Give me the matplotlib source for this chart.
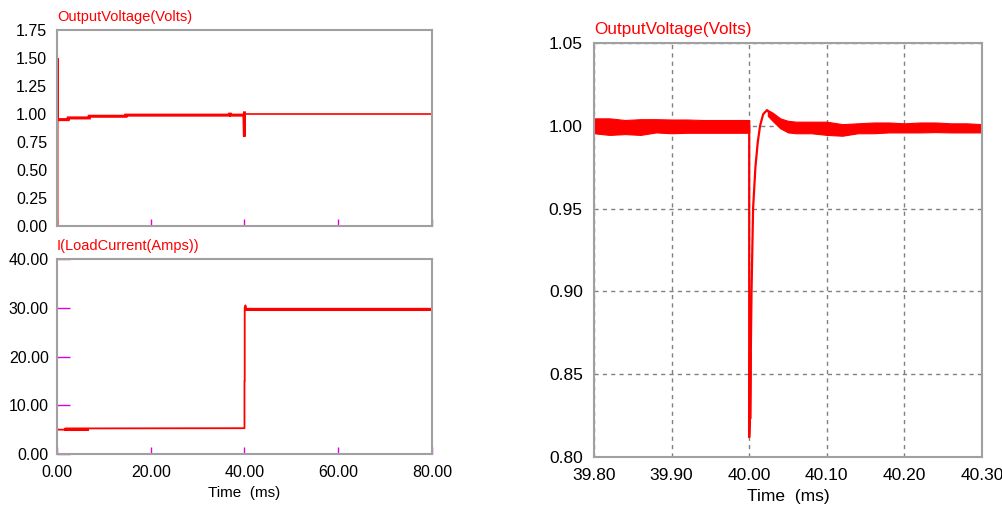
import matplotlib
matplotlib.use("Agg")
import matplotlib.pyplot as plt
import numpy as np

plt.rcParams['font.family'] = ['Liberation Sans', 'DejaVu Sans']

# painel superior esquerdo: tensao de saida 0..80 ms
t_v = [0.0, 0.0, 0.05, 2.4, 2.4, 6.9, 6.9, 14.7, 14.7, 36.8, 36.9, 37.0, 39.9, 40.0, 40.0, 40.1, 40.2, 80.0]
v_v = [0.0, 1.50, 0.950, 0.950, 0.965, 0.965, 0.980, 0.980, 0.990, 0.990, 1.01, 0.990, 0.990, 0.80, 1.01, 0.99, 1.00, 1.00]

# painel inferior esquerdo: corrente de carga
t_i = [0.0, 0.0, 0.05, 1.8, 1.8, 40.0, 40.0, 40.05, 40.05, 40.2, 40.4, 80.0]
i_i = [0.0, 8.0, 5.0, 5.0, 5.25, 5.3, 15.0, 15.0, 30.0, 30.5, 29.8, 29.8]

# painel direito: zoom do transiente (envelope do ripple)
t_pre = [39.80, 39.82, 39.84, 39.86, 39.88, 39.90, 39.92, 39.94, 39.96, 39.98, 40.00]
up_pre = [1.0045, 1.0045, 1.0035, 1.0040, 1.0040, 1.0038, 1.0038, 1.0035, 1.0035, 1.0035, 1.0035]
lo_pre = [0.9955, 0.9945, 0.9950, 0.9945, 0.9960, 0.9955, 0.9958, 0.9958, 0.9958, 0.9958, 0.9958]

t_tr = [40.000, 40.000, 40.0005, 40.001, 40.002, 40.003, 40.005, 40.008, 40.011, 40.014, 40.018, 40.023, 40.030]
v_tr = [1.000, 0.812, 0.820, 0.824, 0.860, 0.900, 0.950, 0.975, 0.990, 1.000, 1.007, 1.0095, 1.006]

t_post = [40.024, 40.030, 40.040, 40.05, 40.06, 40.08, 40.10, 40.12, 40.14, 40.16, 40.18, 40.20, 40.22, 40.24, 40.26, 40.28, 40.30]
up_post = [1.0095, 1.0080, 1.0045, 1.0030, 1.0025, 1.0025, 1.0025, 1.0010, 1.0015, 1.0020, 1.0020, 1.0015, 1.0020, 1.0020, 1.0015, 1.0015, 1.0010]
lo_post = [1.0060, 1.0030, 0.9985, 0.9960, 0.9955, 0.9955, 0.9945, 0.9940, 0.9955, 0.9955, 0.9960, 0.9960, 0.9960, 0.9962, 0.9960, 0.9960, 0.9960]

RED = '#ff0000'
SPINE = '#a0a0a0'
MAG = '#e000e0'

fig = plt.figure(figsize=(10.03, 5.15), dpi=100)
ax1 = fig.add_axes([0.0568, 0.5612, 0.3739, 0.3805])
ax2 = fig.add_axes([0.0568, 0.1184, 0.3739, 0.3786])
ax3 = fig.add_axes([0.5922, 0.1126, 0.3869, 0.8039])

for ax in (ax1, ax2, ax3):
    for s in ax.spines.values():
        s.set_color(SPINE)
        s.set_linewidth(1.5)

# --- tensao
t_v = np.array(t_v); v_v = np.array(v_v)
pre = t_v <= 40.0
ax1.plot(t_v[pre], v_v[pre], color=RED, lw=2.2, solid_joinstyle='miter')
ax1.plot(t_v[~pre], v_v[~pre], color=RED, lw=1.2)
ax1.plot([40.0, 40.0], [0.80, 1.0], color=RED, lw=1.5)
ax1.set_xlim(0, 80)
ax1.set_ylim(0, 1.75)
ax1.set_yticks(np.arange(0, 1.76, 0.25))
ax1.set_yticklabels(['%.2f' % y for y in np.arange(0, 1.76, 0.25)])
ax1.set_xticks([0, 20, 40, 60, 80])
ax1.set_xticklabels([])
ax1.tick_params(axis='x', direction='in', length=5, color=MAG, width=1)
ax1.tick_params(axis='y', direction='in', length=0, labelsize=11.5, pad=7)
ax1.text(0, 1.03, 'OutputVoltage(Volts)', transform=ax1.transAxes, color=RED, fontsize=10.5, va='bottom', ha='left')

# --- corrente
ax2.plot(t_i, i_i, color=RED, lw=1.3)
ax2.plot([1.8, 6.5], [5.15, 5.15], color=RED, lw=2.2)
ax2.plot([40.4, 80.0], [29.8, 29.8], color=RED, lw=2.2)
ax2.set_xlim(0, 80)
ax2.set_ylim(0, 40)
ax2.set_xticks([0, 20, 40, 60, 80])
ax2.set_xticklabels(['%.2f' % x for x in [0, 20, 40, 60, 80]])
ax2.set_yticks([0, 10, 20, 30, 40])
ax2.set_yticklabels(['%.2f' % y for y in [0, 10, 20, 30, 40]])
ax2.tick_params(axis='both', direction='in', length=5, color=MAG, width=1, labelsize=11.5, pad=8)
ax2.tick_params(axis='y', length=9, pad=6)
ax2.set_xlabel('Time  (ms)', fontsize=11, labelpad=4)
ax2.text(0, 1.03, 'I(LoadCurrent(Amps))', transform=ax2.transAxes, color=RED, fontsize=10.5, va='bottom', ha='left')

# --- zoom do transiente
ax3.fill_between(t_pre, lo_pre, up_pre, color=RED, lw=0.8, edgecolor=RED)
ax3.fill_between(t_post, lo_post, up_post, color=RED, lw=0.8, edgecolor=RED)
ax3.plot(t_tr, v_tr, color=RED, lw=1.6)
ax3.plot([40.0008, 40.0012], [0.824, 0.862], color=RED, lw=2.5)
ax3.set_xlim(39.80, 40.30)
ax3.set_ylim(0.80, 1.05)
xt = [39.80, 39.90, 40.00, 40.10, 40.20, 40.30]
yt = [0.80, 0.85, 0.90, 0.95, 1.00, 1.05]
ax3.set_xticks(xt)
ax3.set_xticklabels(['%.2f' % x for x in xt])
ax3.set_yticks(yt)
ax3.set_yticklabels(['%.2f' % y for y in yt])
ax3.tick_params(axis='both', length=0, labelsize=12.5, pad=8)
ax3.grid(True, color='#808080', linestyle=(0, (3, 3)), lw=1)
ax3.set_axisbelow(True)
ax3.set_xlabel('Time  (ms)', fontsize=12.5, labelpad=4)
ax3.text(0, 1.015, 'OutputVoltage(Volts)', transform=ax3.transAxes, color=RED, fontsize=12.3, va='bottom', ha='left')

fig.savefig('out.png', dpi=100)
